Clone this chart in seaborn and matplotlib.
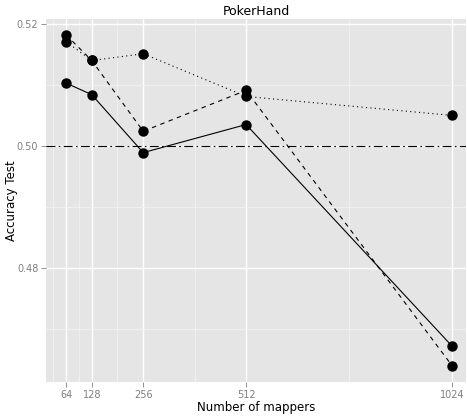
import matplotlib
matplotlib.use("Agg")
import matplotlib.pyplot as plt
import matplotlib.ticker as mticker
import numpy as np
import pandas as pd
import seaborn as sns

# Number of mappers and test accuracy for three configurations
mappers = [64, 128, 256, 512, 1024]
acc_solid = [0.5103, 0.5084, 0.4989, 0.5035, 0.4672]
acc_dashed = [0.5182, 0.5140, 0.5024, 0.5091, 0.4640]
acc_dotted = [0.5171, 0.5140, 0.5151, 0.5081, 0.5050]
baseline = 0.50

x_breaks = [64, 128, 256, 512, 1024]
x_minor = [32, 96, 192, 384, 768]
y_breaks = [0.48, 0.50, 0.52]
y_minor = [0.47, 0.49, 0.51]

df = pd.DataFrame({
    "mappers": mappers * 3,
    "acc": acc_solid + acc_dashed + acc_dotted,
    "series": ["solid"] * 5 + ["dashed"] * 5 + ["dotted"] * 5,
})

sns.set_theme(style="darkgrid")
plt.rcParams["font.family"] = ["DejaVu Sans"]

fig = plt.figure(figsize=(4.67, 4.18), dpi=100)
ax = fig.add_axes([46 / 467, 36 / 418, 420 / 467, 363 / 418])
ax.set_facecolor("#E5E5E5")
for s in ax.spines.values():
    s.set_visible(False)

sns.lineplot(
    data=df, x="mappers", y="acc", style="series",
    dashes={"solid": "", "dashed": (4, 4), "dotted": (1, 3)},
    markers={"solid": "o", "dashed": "o", "dotted": "o"},
    color="black", linewidth=0.8, markersize=7.5, markeredgewidth=0,
    legend=False, ax=ax, zorder=3,
)

ax.axhline(baseline, color="black", linewidth=0.8, dashes=(8, 3, 1.5, 3), zorder=2)

ax.set_xlim(14.2, 1059)
ax.set_ylim(0.4613, 0.5208)
ax.xaxis.set_major_locator(mticker.FixedLocator(x_breaks))
ax.xaxis.set_minor_locator(mticker.FixedLocator(x_minor))
ax.yaxis.set_major_locator(mticker.FixedLocator(y_breaks))
ax.yaxis.set_minor_locator(mticker.FixedLocator(y_minor))
ax.set_xticklabels([str(v) for v in x_breaks])
ax.set_yticklabels([f"{v:.2f}" for v in y_breaks])

ax.grid(which="major", color="white", linewidth=1.0)
ax.grid(which="minor", color="#F2F2F2", linewidth=0.6)
ax.set_axisbelow(True)

ax.tick_params(axis="both", which="major", length=3.5, width=0.6, color="#7F7F7F",
               labelcolor="#7F7F7F", labelsize=7, pad=2, bottom=True, left=True)
ax.tick_params(axis="both", which="minor", length=0)

ax.set_xlabel("Number of mappers", fontsize=8.5, color="black", labelpad=1)
ax.set_ylabel("Accuracy Test", fontsize=8.5, color="black")
ax.yaxis.set_label_coords(-28 / 420, 0.5)
ax.set_title("PokerHand", fontsize=9, color="black", pad=3)

fig.savefig("out.png", dpi=100)
